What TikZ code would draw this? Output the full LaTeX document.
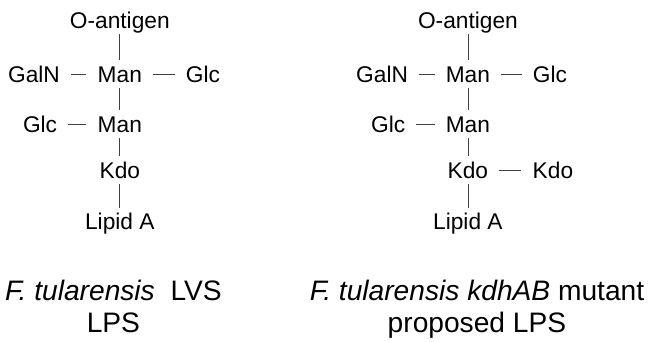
\documentclass[tikz,border=0pt]{standalone}
\usepackage{fontspec}
\setmainfont{Liberation Sans}
\tikzset{
  sugar/.style={inner xsep=8.5pt, inner ysep=4.5pt, outer sep=0pt,
    text height=12.1pt, text depth=0pt, font=\fontsize{17.1}{20}\selectfont},
  caption/.style={align=center, inner sep=0pt, anchor=base,
    font=\fontsize{21.2}{24.75}\selectfont},
  bond/.style={draw=black!75, line width=0.6pt}
}
\begin{document}
\begin{tikzpicture}
            \useasboundingbox (0,0) rectangle (17.198,-9.023);
            % LVS LPS
            \node[sugar] (oag) at (3.17,-0.53) {O-antigen};
            \node[sugar] (man) at (3.17,-1.96) {Man};
            \node[sugar] (galn) at (0.90,-1.96) {GalN};
            \node[sugar] (glc) at (5.37,-1.96) {Glc};
            \node[sugar] (mann) at (3.17,-3.29) {Man};
            \node[sugar] (glcc) at (1.06,-3.29) {Glc};
            \node[sugar] (kdo) at (3.17,-4.51) {Kdo};
            \node[sugar] (lipa) at (3.17,-5.87) {Lipid A};
            \draw[bond] (oag)--(man);
            \draw[bond] (galn)--(man);
            \draw[bond] (man)--(glc);
            \draw[bond] (man)--(mann);
            \draw[bond] (glcc)--(mann);
            \draw[bond] (mann)--(kdo);
            \draw[bond] (kdo)--(lipa);

            % kdhAB mutant LPS
            \node[sugar] (oagM) at (12.38,-0.53) {O-antigen};
            \node[sugar] (manM) at (12.38,-1.96) {Man};
            \node[sugar] (galnM) at (10.11,-1.96) {GalN};
            \node[sugar] (glcM) at (14.55,-1.96) {Glc};
            \node[sugar] (mannM) at (12.38,-3.29) {Man};
            \node[sugar] (glccM) at (10.27,-3.29) {Glc};
            \node[sugar] (kdoM) at (12.38,-4.51) {Kdo};
            \node[sugar] (kdooM) at (14.63,-4.51) {Kdo};
            \node[sugar] (lipaM) at (12.38,-5.87) {Lipid A};
            \draw[bond] (oagM)--(manM);
            \draw[bond] (galnM)--(manM);
            \draw[bond] (manM)--(glcM);
            \draw[bond] (manM)--(mannM);
            \draw[bond] (glccM)--(mannM);
            \draw[bond] (mannM)--(kdoM);
            \draw[bond] (kdoM)--(kdooM);
            \draw[bond] (kdoM)--(lipaM);

            \node[caption] (capLVS) at (3.00,-8.81) {\textit{F. tularensis}~~LVS\\LPS};
            \node[caption] (capM) at (12.62,-8.81) {\textit{F. tularensis kdhAB} mutant\\proposed LPS};
\end{tikzpicture}
\end{document}
